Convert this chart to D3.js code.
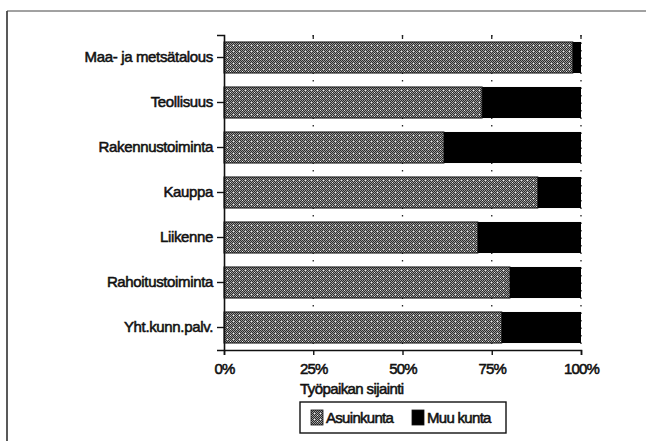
<!DOCTYPE html>
<html>
<head>
<meta charset="utf-8">
<script src="https://cdn.jsdelivr.net/npm/d3@7"></script>
<style>
  body { margin: 0; background: #fff; }
  text { font-family: "Liberation Sans", Arial, sans-serif; fill: #111; }
</style>
</head>
<body>
<script>
// categories and shares (percent)
var categories = ["Maa- ja metsätalous", "Teollisuus", "Rakennustoiminta", "Kauppa",
                  "Liikenne", "Rahoitustoiminta", "Yht.kunn.palv."];
var asuinkunta = [97.7, 72.3, 61.6, 87.9, 71.1, 80.1, 77.8];
var muuKunta = asuinkunta.map(v => 100 - v);
var seriesNames = ["Asuinkunta", "Muu kunta"];
var xTicks = [0, 25, 50, 75, 100];

var margin = {top: 35, right: 65, bottom: 91, left: 224};
var width = 646 - margin.left - margin.right,
    height = 441 - margin.top - margin.bottom;

var svg = d3.select("body").append("svg")
    .attr("width", 646)
    .attr("height", 441);

// stippled grey fill (scanned halftone look)
var pat = svg.append("defs").append("pattern")
    .attr("id", "stipple")
    .attr("patternUnits", "userSpaceOnUse")
    .attr("width", 6).attr("height", 6);
pat.append("rect").attr("width", 6).attr("height", 6).attr("fill", "#9c9c9c");
var darkPx = [[0,0],[2,0],[4,0],[1,1],[3,1],[5,1],[0,2],[2,2],[4,2],[1,3],[5,3],
              [0,4],[2,4],[4,4],[3,5],[5,5],[1,5]];
darkPx.forEach(p => {
  pat.append("rect").attr("x", p[0]).attr("y", p[1])
     .attr("width", 1).attr("height", 1).attr("fill", "#2a2a2a");
});
[[3,3],[0,5]].forEach(p => {
  pat.append("rect").attr("x", p[0]).attr("y", p[1])
     .attr("width", 1).attr("height", 1).attr("fill", "#eeeeee");
});

// outer frame (left and top only, as scanned)
svg.append("line").attr("x1", 7).attr("x2", 7).attr("y1", 11).attr("y2", 441)
   .attr("stroke", "#222").attr("stroke-width", 1.5);
svg.append("line").attr("x1", 7).attr("x2", 646).attr("y1", 11).attr("y2", 11)
   .attr("stroke", "#444").attr("stroke-width", 1);

var chart = svg.append("g")
    .attr("transform", "translate(" + margin.left + "," + margin.top + ")");

var x = d3.scaleLinear().domain([0, 100]).range([0, 357]);
var y = d3.scaleBand().domain(categories).range([0, height]).paddingInner(0.31).paddingOuter(0.155);

// dotted grid lines
chart.append("g").selectAll("line")
  .data(xTicks.slice(1)).enter().append("line")
  .attr("x1", d => x(d)).attr("x2", d => x(d))
  .attr("y1", 0).attr("y2", height)
  .attr("stroke", "#222").attr("stroke-width", 1.3)
  .attr("stroke-dasharray", "1.5,6");

// top ticks
chart.append("g").selectAll("line")
  .data(xTicks.slice(1)).enter().append("line")
  .attr("x1", d => x(d)).attr("x2", d => x(d))
  .attr("y1", 0).attr("y2", 4)
  .attr("stroke", "#222").attr("stroke-width", 1.3);

var rows = chart.append("g").selectAll("g")
  .data(categories).enter().append("g")
  .attr("transform", d => "translate(0," + y(d) + ")");

rows.append("rect")
  .attr("x", 0)
  .attr("width", (d, i) => x(asuinkunta[i]))
  .attr("height", y.bandwidth())
  .attr("fill", "url(#stipple)")
  .attr("stroke", "#111").attr("stroke-width", 1);

rows.append("rect")
  .attr("x", (d, i) => x(asuinkunta[i]))
  .attr("width", (d, i) => x(muuKunta[i]))
  .attr("height", y.bandwidth())
  .attr("fill", "#000");

var textStyle = sel => sel.attr("font-size", 15).attr("letter-spacing", -0.35)
  .attr("stroke", "#111").attr("stroke-width", 0.55).attr("fill", "#111");

var yAxis = d3.axisLeft(y).tickSize(7).tickPadding(4);
var yg = chart.append("g").call(yAxis);
yg.select(".domain").attr("stroke", "#111").attr("stroke-width", 1.6);
yg.selectAll(".tick line").attr("stroke", "#111").attr("stroke-width", 1.4);
yg.selectAll("text").call(textStyle);

var xAxis = d3.axisBottom(x).tickValues(xTicks).tickFormat(d => d + "%").tickSize(5).tickPadding(8);
var xg = chart.append("g")
  .attr("transform", "translate(0," + height + ")")
  .call(xAxis);
xg.select(".domain").attr("stroke", "#111").attr("stroke-width", 1.6);
xg.selectAll(".tick line").attr("stroke", "#111").attr("stroke-width", 1.4);
xg.selectAll("text").call(textStyle).attr("letter-spacing", -0.8);

xg.append("text")
  .text("Työpaikan sijainti")
  .attr("x", x(21.3)).attr("y", 44)
  .attr("text-anchor", "start")
  .call(textStyle).attr("letter-spacing", -0.6);

// legend
var legend = svg.append("g").attr("transform", "translate(300,402)");
legend.append("rect").attr("width", 206).attr("height", 31)
  .attr("fill", "#fff").attr("stroke", "#111").attr("stroke-width", 1.4);
var legendX = [11, 112];
var swatchFill = ["url(#stipple)", "#000"];
var items = legend.selectAll("g.item").data(seriesNames).enter().append("g")
  .attr("transform", (d, i) => "translate(" + legendX[i] + ",8)");
items.append("rect").attr("width", 12).attr("height", 15)
  .attr("fill", (d, i) => swatchFill[i]).attr("stroke", "#111").attr("stroke-width", 0.8);
items.append("text").text(d => d)
  .attr("x", 15).attr("y", 13)
  .call(textStyle).attr("letter-spacing", -0.7);
</script>
</body>
</html>
